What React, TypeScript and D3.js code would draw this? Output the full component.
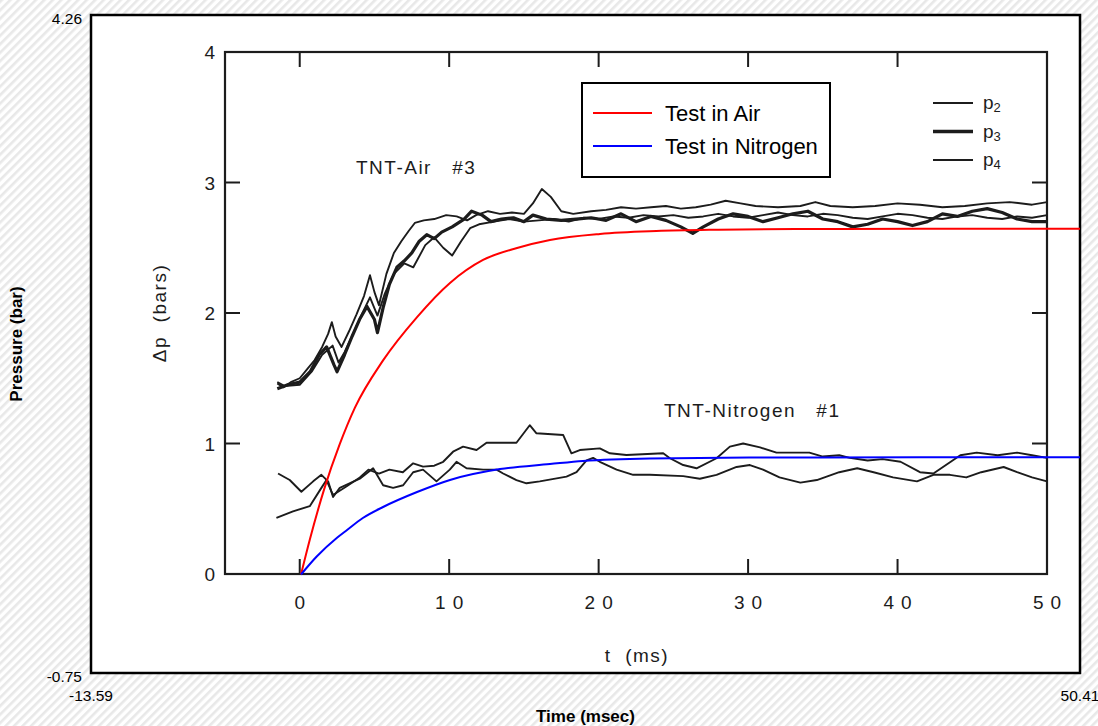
import React from "react";
import * as d3 from "d3";

// ---------- Outer chart data ----------
const outerX = [-13.59, 50.41];
const outerY = [-0.75, 4.26];
const xCornerLabels = ["-13.59", "50.41"];
const yCornerLabels = ["4.26", "-0.75"];

const airT = [0, 0.58, 1.5, 2.5, 3.49, 5.31, 7.51, 9.64, 11.78, 13.98, 16.11, 19.35, 23, 27, 32, 40, 50.41];
const airV = [0, 0.27, 0.65, 0.99, 1.27, 1.63, 1.96, 2.22, 2.395, 2.486, 2.547, 2.593, 2.615, 2.625, 2.63, 2.632, 2.632];
const n2T = [0, 1, 2.33, 2.98, 4, 5.31, 7.51, 9.64, 12.88, 16.11, 18.25, 22.58, 29, 40, 50.41];
const n2V = [0, 0.135, 0.28, 0.339, 0.43, 0.514, 0.628, 0.72, 0.803, 0.841, 0.865, 0.884, 0.89, 0.892, 0.892];

const legendNames = ["Test in Air", "Test in Nitrogen"];
const legendColors = ["#ff0000", "#0000ff"];

// ---------- Scanned figure data (inner axes: t in ms, Δp in bars) ----------
const innerX = [-5, 50];
const innerY = [0, 4];
const innerXTicks = [0, 10, 20, 30, 40, 50];
const innerYTicks = [0, 1, 2, 3, 4];

const airP2: [number, number][] = [
  [-1.5, 1.46], [-1.1, 1.43], [-0.6, 1.47], [0, 1.5], [0.5, 1.57], [1.0, 1.64], [1.5, 1.74], [1.9, 1.84],
  [2.15, 1.93], [2.4, 1.82], [2.8, 1.74], [3.3, 1.86], [3.8, 1.99], [4.3, 2.13], [4.7, 2.29], [5.0, 2.16],
  [5.3, 2.06], [5.8, 2.3], [6.3, 2.46], [6.8, 2.55], [7.3, 2.63], [7.7, 2.69], [8.3, 2.71], [9.0, 2.72],
  [9.8, 2.75], [10.5, 2.74], [11.2, 2.71], [11.8, 2.75], [12.6, 2.78], [13.4, 2.76], [14.2, 2.77], [15.0, 2.76],
  [15.6, 2.84], [16.2, 2.95], [16.8, 2.89], [17.5, 2.78], [18.3, 2.76], [19.5, 2.78], [20.5, 2.79], [21.5, 2.81],
  [22.5, 2.8], [23.5, 2.81], [24.5, 2.82], [25.5, 2.8], [26.5, 2.81], [27.5, 2.83], [28.5, 2.86], [29.5, 2.84],
  [30.5, 2.82], [32, 2.81], [33.5, 2.82], [34.5, 2.85], [35.5, 2.82], [37, 2.81], [38.5, 2.82], [40, 2.84],
  [41.5, 2.83], [43, 2.81], [44.5, 2.82], [46, 2.84], [47.5, 2.85], [49, 2.83], [50, 2.85],
];
const airP3: [number, number][] = [
  [-1.5, 1.42], [-0.8, 1.45], [0, 1.47], [0.7, 1.55], [1.3, 1.68], [1.8, 1.74], [2.3, 1.6], [2.5, 1.55],
  [3.0, 1.68], [3.5, 1.82], [4.0, 1.95], [4.5, 2.05], [5.0, 1.95], [5.2, 1.85], [5.6, 2.05], [6.0, 2.22],
  [6.5, 2.35], [7.0, 2.4], [7.5, 2.46], [8.0, 2.55], [8.5, 2.6], [9.0, 2.57], [9.5, 2.62], [10.2, 2.66],
  [11, 2.72], [11.5, 2.78], [12.2, 2.75], [12.8, 2.7], [13.5, 2.72], [14.3, 2.73], [15, 2.7], [15.6, 2.75],
  [16.5, 2.72], [17.5, 2.71], [18.5, 2.72], [19.5, 2.73], [20.5, 2.71], [21.5, 2.76], [22.5, 2.7], [23.5, 2.74],
  [24.5, 2.71], [25.5, 2.66], [26.3, 2.61], [27, 2.66], [28, 2.72], [29, 2.76], [30, 2.74], [31, 2.7],
  [32, 2.73], [33, 2.76], [34, 2.78], [35, 2.72], [36, 2.7], [37, 2.66], [38, 2.68], [39, 2.72], [40, 2.7],
  [41, 2.67], [42, 2.7], [43, 2.76], [44, 2.74], [45, 2.78], [46, 2.8], [47, 2.77], [48, 2.72], [49, 2.7], [50, 2.7],
];
const airP4: [number, number][] = [
  [-1.5, 1.47], [-1, 1.44], [0, 1.45], [0.8, 1.55], [1.5, 1.68], [2.2, 1.75], [2.6, 1.62], [3.0, 1.7],
  [3.6, 1.85], [4.2, 2.0], [4.7, 2.12], [5.2, 1.98], [5.7, 2.15], [6.3, 2.3], [7, 2.38], [7.6, 2.35],
  [8.4, 2.52], [9, 2.58], [9.6, 2.5], [10.2, 2.44], [10.8, 2.55], [11.4, 2.65], [12, 2.68], [13, 2.7],
  [14, 2.72], [15, 2.7], [16, 2.71], [17, 2.72], [18, 2.7], [19, 2.73], [20, 2.72], [21, 2.74], [22, 2.73],
  [23, 2.75], [24, 2.74], [25, 2.75], [26, 2.73], [27, 2.74], [28, 2.76], [29, 2.74], [30, 2.73], [31, 2.75],
  [32, 2.77], [33, 2.75], [34, 2.74], [35, 2.76], [36, 2.75], [37, 2.73], [38, 2.72], [39, 2.74], [40, 2.76],
  [41, 2.75], [42, 2.73], [43, 2.72], [44, 2.74], [45, 2.75], [46, 2.73], [47, 2.72], [48, 2.74], [49, 2.73], [50, 2.75],
];
const nitroA: [number, number][] = [
  [-1.45, 0.77], [-0.67, 0.72], [0.11, 0.63], [0.9, 0.71], [1.45, 0.76], [1.9, 0.71], [2.23, 0.59], [2.68, 0.66],
  [4.02, 0.73], [4.91, 0.81], [5.58, 0.68], [6.25, 0.66], [6.92, 0.68], [7.59, 0.78], [8.25, 0.8], [9.15, 0.71],
  [10.04, 0.8], [10.49, 0.86], [11.16, 0.81], [12.27, 0.8], [13.17, 0.8], [13.61, 0.77], [14.5, 0.72], [15.17, 0.695],
  [16.06, 0.71], [17.85, 0.746], [18.52, 0.78], [19.19, 0.87], [19.63, 0.89], [20.08, 0.86], [21.2, 0.8], [22.31, 0.76],
  [23.43, 0.76], [25.66, 0.75], [26.77, 0.73], [27.89, 0.76], [29.23, 0.82], [30.12, 0.835], [31, 0.8], [32.1, 0.74],
  [33.5, 0.7], [34.6, 0.72], [36.1, 0.78], [37.3, 0.81], [38.4, 0.78], [39.7, 0.74], [41.3, 0.71], [42.4, 0.76],
  [43.5, 0.76], [44.6, 0.74], [45.6, 0.78], [47.1, 0.82], [48, 0.78], [49, 0.74], [50, 0.71],
];
const nitroB: [number, number][] = [
  [-1.56, 0.43], [-0.45, 0.48], [0.67, 0.52], [1.45, 0.66], [1.79, 0.72], [2.23, 0.605], [3.12, 0.67], [4.02, 0.74],
  [4.6, 0.8], [5.3, 0.77], [6.0, 0.8], [6.9, 0.78], [7.59, 0.848], [8.25, 0.823], [9.0, 0.83], [9.6, 0.86],
  [10.26, 0.937], [10.93, 0.976], [11.83, 0.95], [12.5, 1.006], [14.5, 1.006], [15.39, 1.14], [15.84, 1.078],
  [17.63, 1.065], [18.18, 0.925], [18.74, 0.95], [20.08, 0.963], [20.75, 0.925], [21.86, 0.912], [24.32, 0.925],
  [24.77, 0.887], [25.66, 0.835], [26.55, 0.81], [27.89, 0.887], [28.78, 0.976], [29.67, 1.0], [30.8, 0.97],
  [31.9, 0.93], [34.1, 0.93], [35, 0.9], [36.1, 0.91], [36.8, 0.89], [38, 0.87], [39, 0.88], [40.2, 0.86],
  [41.5, 0.78], [42.4, 0.77], [44.2, 0.91], [45.3, 0.93], [46.7, 0.91], [48, 0.93], [49, 0.91], [50, 0.89],
];
const traceLabels = ["p2", "p3", "p4"];

const W = 1098;
const H = 726;
const FONT = "'Liberation Sans', Arial, Helvetica, sans-serif";

export default function App() {
  const x = d3.scaleLinear().domain(outerX).range([91, 1080]);
  const y = d3.scaleLinear().domain(outerY).range([673, 15]);
  const ix = d3.scaleLinear().domain(innerX).range([225, 1047]);
  const iy = d3.scaleLinear().domain(innerY).range([574, 52]);

  const outerLine = d3
    .line<[number, number]>()
    .x((d) => x(d[0]))
    .y((d) => y(d[1]))
    .curve(d3.curveMonotoneX);
  const innerLine = d3
    .line<[number, number]>()
    .x((d) => ix(d[0]))
    .y((d) => iy(d[1]))
    .curve(d3.curveLinear);

  const airPts = airT.map((t, i) => [t, airV[i]] as [number, number]);
  const n2Pts = n2T.map((t, i) => [t, n2V[i]] as [number, number]);

  const ink = "#1c1c1c";
  const tickLen = 15;
  const x0 = ix(innerX[0]);
  const x1 = ix(innerX[1]);
  const y0 = iy(innerY[0]);
  const y1 = iy(innerY[1]);
  const scanFont = 19;
  const ls = 1.5;

  return (
    <svg
      width={W}
      height={H}
      style={{ position: "absolute", left: 0, top: 0, background: "#fff" }}
      fontFamily={FONT}
    >
      <defs>
        <pattern id="hatch" width="6" height="6" patternUnits="userSpaceOnUse" patternTransform="rotate(45)">
          <rect width="6" height="6" fill="#ffffff" />
          <rect width="2.6" height="6" fill="#e8e8e8" />
        </pattern>
      </defs>
      <rect x={0} y={0} width={W} height={H} fill="url(#hatch)" />
      {/* plot area */}
      <rect x={x(outerX[0])} y={y(outerY[1])} width={x(outerX[1]) - x(outerX[0])} height={y(outerY[0]) - y(outerY[1])} fill="#fff" stroke="#000" strokeWidth={2.5} />

      {/* corner labels */}
      <text x={82} y={y(outerY[1]) + 9} textAnchor="end" fontSize={15.5}>{yCornerLabels[0]}</text>
      <text x={82} y={y(outerY[0]) + 9} textAnchor="end" fontSize={15.5}>{yCornerLabels[1]}</text>
      <text x={x(outerX[0])} y={701} textAnchor="middle" fontSize={15.5}>{xCornerLabels[0]}</text>
      <text x={x(outerX[1])} y={701} textAnchor="middle" fontSize={15.5}>{xCornerLabels[1]}</text>
      <text x={(x(outerX[0]) + x(outerX[1])) / 2} y={722} textAnchor="middle" fontSize={17} fontWeight="bold">Time (msec)</text>
      <text transform={`translate(22,${(y(outerY[0]) + y(outerY[1])) / 2}) rotate(-90)`} textAnchor="middle" fontSize={17} fontWeight="bold">Pressure (bar)</text>

      {/* scanned inner figure */}
      <g>
        <rect x={x0} y={y1} width={x1 - x0} height={y0 - y1} fill="none" stroke={ink} strokeWidth={2.2} />
        {innerXTicks.map((t) => (
          <g key={"xt" + t}>
            <line x1={ix(t)} x2={ix(t)} y1={y0} y2={y0 - tickLen} stroke={ink} strokeWidth={2} />
            <line x1={ix(t)} x2={ix(t)} y1={y1} y2={y1 + tickLen} stroke={ink} strokeWidth={2} />
            <text x={ix(t)} y={y0 + 35} textAnchor="middle" fontSize={scanFont} fill={ink} letterSpacing={t === 0 ? 0 : 7} dx={t === 0 ? 0 : 3.5}>
              {String(t)}
            </text>
          </g>
        ))}
        {innerYTicks.map((v) => (
          <g key={"yt" + v}>
            <line x1={x0} x2={x0 + tickLen} y1={iy(v)} y2={iy(v)} stroke={ink} strokeWidth={2} />
            <line x1={x1} x2={x1 - tickLen} y1={iy(v)} y2={iy(v)} stroke={ink} strokeWidth={2} />
            <text x={215} y={iy(v) + 7} textAnchor="end" fontSize={scanFont} fill={ink}>{String(v)}</text>
          </g>
        ))}
        <text x={637} y={662} textAnchor="middle" fontSize={scanFont} fill={ink} letterSpacing={ls} style={{ whiteSpace: "pre" }}>{"t  (ms)"}</text>
        <text transform={`translate(166,${(y0 + y1) / 2}) rotate(-90)`} textAnchor="middle" fontSize={scanFont} fill={ink} letterSpacing={ls} style={{ whiteSpace: "pre" }}>{"Δp  (bars)"}</text>
        <text x={356} y={174} fontSize={scanFont} fill={ink} letterSpacing={ls} style={{ whiteSpace: "pre" }}>{"TNT-Air   #3"}</text>
        <text x={664} y={417} fontSize={scanFont} fill={ink} letterSpacing={ls} style={{ whiteSpace: "pre" }}>{"TNT-Nitrogen   #1"}</text>

        {[airP2, airP4, nitroA, nitroB].map((d, i) => (
          <path key={"tr" + i} d={innerLine(d) || ""} fill="none" stroke={ink} strokeWidth={1.9} strokeLinejoin="round" />
        ))}
        <path d={innerLine(airP3) || ""} fill="none" stroke={ink} strokeWidth={3.2} strokeLinejoin="round" />

        {traceLabels.map((lab, i) => (
          <g key={lab}>
            <line x1={933} x2={973} y1={103 + i * 28.5} y2={103 + i * 28.5} stroke={ink} strokeWidth={i === 1 ? 3.5 : 1.8} />
            <text x={983} y={103 + i * 28.5 + 6} fontSize={19} fill={ink}>
              {lab[0]}
              <tspan fontSize={13} dy={3}>{lab.slice(1)}</tspan>
            </text>
          </g>
        ))}
      </g>

      {/* model curves */}
      <path d={outerLine(airPts) || ""} fill="none" stroke={legendColors[0]} strokeWidth={2} />
      <path d={outerLine(n2Pts) || ""} fill="none" stroke={legendColors[1]} strokeWidth={2} />

      {/* legend */}
      <rect x={582} y={83} width={248} height={94} fill="#fff" stroke="#000" strokeWidth={2} />
      {legendNames.map((name, i) => (
        <g key={name}>
          <line x1={593} x2={652} y1={113 + i * 33} y2={113 + i * 33} stroke={legendColors[i]} strokeWidth={2} />
          <text x={665} y={113 + i * 33 + 8} fontSize={22} fill="#000">{name}</text>
        </g>
      ))}
    </svg>
  );
}
